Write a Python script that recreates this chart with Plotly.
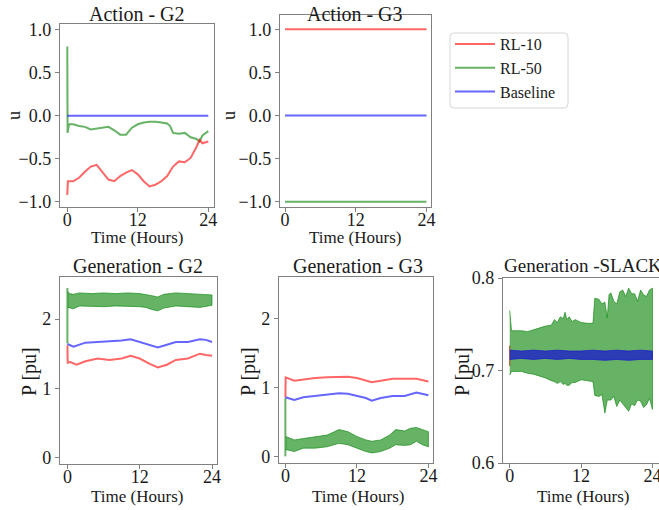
import plotly.graph_objects as go

W, H = 659, 510
FONT = "Liberation Serif"

# ---------------- data ----------------
series_names = ["RL-10", "RL-50", "Baseline"]

# Action - G2 (u)
a_g2_rl10_t = [0, 0.1, 1, 2, 3, 4, 5, 6, 7, 8, 9, 10, 11, 12, 13, 14, 15, 16, 17, 18, 19, 20, 21, 22, 22.5, 23, 24]
a_g2_rl10_u = [-0.92, -0.76, -0.76, -0.72, -0.65, -0.59, -0.57, -0.66, -0.74, -0.76, -0.70, -0.66, -0.63, -0.68,
               -0.76, -0.82, -0.80, -0.76, -0.70, -0.59, -0.53, -0.54, -0.49, -0.36, -0.28, -0.32, -0.30]
a_g2_rl50_t = [0, 0.05, 0.3, 1, 2, 3, 4, 5, 6, 7, 8, 9, 10, 11, 12, 13, 14, 15, 16, 17, 17.5, 18, 19, 20, 21, 22,
               22.5, 23, 24]
a_g2_rl50_u = [0.80, -0.20, -0.10, -0.10, -0.12, -0.13, -0.16, -0.15, -0.14, -0.13, -0.17, -0.22, -0.22, -0.14,
               -0.10, -0.08, -0.07, -0.07, -0.08, -0.09, -0.12, -0.20, -0.21, -0.20, -0.25, -0.27, -0.30, -0.23, -0.18]
a_g2_base_t = [0, 24]
a_g2_base_u = [0.0, 0.0]

# Action - G3 (u)
a_g3_t = [0, 24]
a_g3_rl10_u = [1.0, 1.0]
a_g3_rl50_u = [-1.0, -1.0]
a_g3_base_u = [0.0, 0.0]

# Generation - G2 (P pu)
g_g2_rl10_t = [0, 0.05, 0.5, 1.5, 3, 5, 7, 9, 10.5, 12, 13.5, 15, 16.5, 18, 20, 22, 23, 24]
g_g2_rl10_p = [1.62, 1.37, 1.38, 1.34, 1.39, 1.43, 1.41, 1.43, 1.47, 1.43, 1.36, 1.30, 1.34, 1.41, 1.43, 1.50,
               1.48, 1.47]
g_g2_base_t = [0, 1, 3, 5, 7, 9, 10.5, 12, 13.5, 15, 16.5, 18, 20, 22, 23, 24]
g_g2_base_p = [1.64, 1.60, 1.66, 1.67, 1.69, 1.69, 1.71, 1.67, 1.64, 1.59, 1.63, 1.67, 1.67, 1.71, 1.70, 1.67]
g_g2_rl50_spike_t = [0, 0]
g_g2_rl50_spike_p = [1.65, 2.45]
g_g2_rl50_t = [0.05, 0.3, 1, 2, 4, 6, 8, 10, 12, 13, 14, 15, 16, 18, 20, 22, 24]
g_g2_rl50_hi = [2.40, 2.37, 2.36, 2.38, 2.37, 2.38, 2.37, 2.38, 2.37, 2.36, 2.34, 2.32, 2.36, 2.38, 2.37, 2.37, 2.35]
g_g2_rl50_lo = [2.17, 2.17, 2.15, 2.19, 2.19, 2.18, 2.19, 2.19, 2.18, 2.17, 2.14, 2.12, 2.16, 2.19, 2.18, 2.17, 2.20]

# Generation - G3 (P pu)
g_g3_rl10_t = [0, 0.05, 1.5, 3, 5, 7, 9, 10.5, 12, 13.5, 14.5, 16, 18, 20, 22, 24]
g_g3_rl10_p = [0.86, 1.15, 1.10, 1.12, 1.14, 1.15, 1.16, 1.16, 1.14, 1.11, 1.08, 1.10, 1.13, 1.13, 1.13, 1.09]
g_g3_base_t = [0, 1.5, 3, 5, 7, 9, 10.5, 12, 13.5, 14.5, 16, 18, 20, 22, 23, 24]
g_g3_base_p = [0.86, 0.82, 0.86, 0.88, 0.89, 0.92, 0.91, 0.88, 0.85, 0.81, 0.85, 0.88, 0.88, 0.93, 0.91, 0.89]
g_g3_rl50_spike_t = [0, 0]
g_g3_rl50_spike_p = [0.85, 0.0]
g_g3_rl50_t = [0.05, 1.5, 3, 5, 7, 9, 10.5, 12, 13.5, 14.5, 16, 17.5, 18.5, 20, 21, 22, 23, 24]
g_g3_rl50_hi = [0.29, 0.24, 0.26, 0.29, 0.31, 0.39, 0.36, 0.29, 0.24, 0.22, 0.24, 0.31, 0.39, 0.37, 0.41, 0.42,
                0.39, 0.36]
g_g3_rl50_lo = [0.10, 0.07, 0.12, 0.12, 0.14, 0.19, 0.17, 0.12, 0.07, 0.05, 0.07, 0.12, 0.17, 0.16, 0.17, 0.22,
                0.17, 0.14]

# Generation - SLACK (P pu)
g_sl_rl50_t = [0, 0.3, 2, 3, 4, 5, 6, 7, 7.5, 8, 8.5, 9, 9.3, 9.6, 10, 10.5, 11, 12, 13, 14, 14.3, 15, 15.5, 16,
               16.4, 16.7, 17, 17.5, 18, 18.5, 19, 19.5, 20, 20.5, 21, 21.5, 22, 22.5, 23, 23.5, 24]
g_sl_rl50_hi = [0.765, 0.743, 0.743, 0.742, 0.744, 0.746, 0.748, 0.749, 0.755, 0.752, 0.758, 0.756, 0.763, 0.755,
                0.758, 0.753, 0.755, 0.752, 0.751, 0.751, 0.778, 0.777, 0.772, 0.774, 0.757, 0.782, 0.784, 0.775,
                0.772, 0.785, 0.787, 0.780, 0.789, 0.783, 0.783, 0.775, 0.787, 0.782, 0.780, 0.787, 0.789]
g_sl_rl50_lo = [0.695, 0.699, 0.699, 0.697, 0.696, 0.694, 0.692, 0.689, 0.688, 0.686, 0.688, 0.685, 0.686, 0.684,
                0.684, 0.687, 0.687, 0.690, 0.689, 0.688, 0.673, 0.672, 0.674, 0.654, 0.668, 0.668, 0.668, 0.672,
                0.661, 0.668, 0.664, 0.660, 0.656, 0.664, 0.662, 0.668, 0.667, 0.660, 0.663, 0.670, 0.658]
g_sl_base_t = [0, 2, 4, 6, 8, 10, 12, 14, 16, 18, 20, 22, 24]
g_sl_base_hi = [0.722, 0.721, 0.722, 0.721, 0.722, 0.721, 0.721, 0.722, 0.721, 0.722, 0.721, 0.722, 0.721]
g_sl_base_lo = [0.712, 0.713, 0.712, 0.713, 0.712, 0.713, 0.712, 0.712, 0.711, 0.712, 0.711, 0.712, 0.712]
g_sl_rl10_spike_t = [0, 0]
g_sl_rl10_spike_p = [0.705, 0.727]

hour_ticks = [0, 12, 24]
u_ticks = [-1.0, -0.5, 0.0, 0.5, 1.0]
u_ticktext = ["\u22121.0", "\u22120.5", "0.0", "0.5", "1.0"]
p_ticks = [0, 1, 2]
sl_ticks = [0.6, 0.7, 0.8]

# ---------------- style ----------------
RED = "rgba(255,0,0,0.6)"
GREEN = "rgba(0,128,0,0.6)"
BLUE = "rgba(0,0,255,0.6)"
DARKBLUE = "rgba(30,30,200,0.8)"
AXC = "#808080"
TXT = "#1a1a1a"

# axis boxes in pixels: (left, right, top, bottom), x range, y range
boxes = {
    "1": ((60, 214, 24, 207), (-1.24, 24.97), (-1.058, 1.061)),
    "2": ((280, 431, 15, 207), (-0.85, 24.76), (-1.061, 1.166)),
    "3": ((60, 217, 277, 464), (-1.23, 24.83), (-0.097, 2.61)),
    "4": ((279, 433, 277, 463), (-1.07, 24.77), (-0.096, 2.61)),
    "5": ((503, 659, 278, 463), (-1.13, 25.1), (0.6, 0.8)),
}

fig = go.Figure()


def ax_ids(k):
    return ("x" if k == "1" else "x" + k), ("y" if k == "1" else "y" + k)


def line(k, t, v, color, name=None, legend=False, rank=None, width=2):
    xa, ya = ax_ids(k)
    fig.add_trace(go.Scatter(x=t, y=v, mode="lines", xaxis=xa, yaxis=ya,
                             line=dict(color=color, width=width), name=name,
                             showlegend=legend, legendrank=rank if rank else 1000,
                             hoverinfo="skip"))


def band(k, t, hi, lo, color):
    xa, ya = ax_ids(k)
    fig.add_trace(go.Scatter(x=list(t) + list(t)[::-1], y=list(hi) + list(lo)[::-1],
                             mode="lines", fill="toself", fillcolor=color,
                             line=dict(color=color, width=1), xaxis=xa, yaxis=ya,
                             showlegend=False, hoverinfo="skip"))


# Action - G2
line("1", a_g2_rl50_t, a_g2_rl50_u, GREEN, series_names[1], True, 2)
line("1", a_g2_rl10_t, a_g2_rl10_u, RED, series_names[0], True, 1)
line("1", a_g2_base_t, a_g2_base_u, BLUE, series_names[2], True, 3)
# Action - G3
line("2", a_g3_t, a_g3_rl50_u, GREEN)
line("2", a_g3_t, a_g3_rl10_u, RED)
line("2", a_g3_t, a_g3_base_u, BLUE)
# Generation - G2
band("3", g_g2_rl50_t, g_g2_rl50_hi, g_g2_rl50_lo, GREEN)
line("3", g_g2_rl50_spike_t, g_g2_rl50_spike_p, GREEN)
line("3", g_g2_rl10_t, g_g2_rl10_p, RED)
line("3", g_g2_base_t, g_g2_base_p, BLUE)
# Generation - G3
band("4", g_g3_rl50_t, g_g3_rl50_hi, g_g3_rl50_lo, GREEN)
line("4", g_g3_rl50_spike_t, g_g3_rl50_spike_p, GREEN)
line("4", g_g3_rl10_t, g_g3_rl10_p, RED)
line("4", g_g3_base_t, g_g3_base_p, BLUE)
# Generation - SLACK
band("5", g_sl_rl50_t, g_sl_rl50_hi, g_sl_rl50_lo, GREEN)
line("5", g_sl_rl10_spike_t, g_sl_rl10_spike_p, "rgba(170,90,40,0.85)", width=1.5)
band("5", g_sl_base_t, g_sl_base_hi, g_sl_base_lo, DARKBLUE)

# legend frame (rounded, light grey) drawn as a shape
lx0, lx1, ly0, ly1, rr = 450 / W, 568 / W, 1 - 33 / H, 1 - 108 / H, 4
rx, ry = rr / W, rr / H
frame_path = (f"M{lx0 + rx},{ly0} L{lx1 - rx},{ly0} Q{lx1},{ly0} {lx1},{ly0 - ry} "
              f"L{lx1},{ly1 + ry} Q{lx1},{ly1} {lx1 - rx},{ly1} L{lx0 + rx},{ly1} "
              f"Q{lx0},{ly1} {lx0},{ly1 + ry} L{lx0},{ly0 - ry} Q{lx0},{ly0} {lx0 + rx},{ly0} Z")

layout = dict(width=W, height=H, margin=dict(l=0, r=0, t=0, b=0, pad=0, autoexpand=False),
              paper_bgcolor="white", plot_bgcolor="white",
              font=dict(family=FONT, color=TXT),
              shapes=[dict(type="path", path=frame_path, xref="paper", yref="paper",
                           line=dict(color="#d6d6d6", width=1), fillcolor="rgba(0,0,0,0)")],
              legend=dict(x=450 / W, y=1 - 27 / H, xanchor="left", yanchor="top",
                          borderwidth=0, bgcolor="rgba(0,0,0,0)", itemwidth=40,
                          font=dict(family=FONT, size=16, color=TXT)))

common = dict(showline=True, mirror=True, linecolor=AXC, linewidth=1.3, ticks="outside", ticklen=4,
              tickcolor=AXC, showgrid=False, zeroline=False, tickfont=dict(family=FONT, size=18, color=TXT),
              fixedrange=True, automargin=False, ticklabeloverflow="allow")

for k, ((l, r, t, b), xr, yr) in boxes.items():
    xa, ya = ax_ids(k)
    xkey = "xaxis" if k == "1" else "xaxis" + k
    ykey = "yaxis" if k == "1" else "yaxis" + k
    layout[xkey] = dict(common, domain=[l / W, r / W], range=list(xr), anchor=ya,
                        tickvals=hour_ticks, ticktext=[str(v) for v in hour_ticks],
                        ticklabelstandoff=-8)
    yd = dict(common, domain=[1 - b / H, 1 - t / H], range=list(yr), anchor=xa)
    if k in ("1", "2"):
        yd.update(tickvals=u_ticks, ticktext=u_ticktext)
    elif k in ("3", "4"):
        yd.update(tickvals=p_ticks, ticktext=[str(v) for v in p_ticks])
    else:
        yd.update(tickvals=sl_ticks, ticktext=["0.6", "0.7", "0.8"])
    layout[ykey] = yd

fig.update_layout(**layout)


def ann(text, x, y, size, angle=0, xanchor="center"):
    fig.add_annotation(text=text, x=x / W, y=1 - y / H, xref="paper", yref="paper",
                       showarrow=False, textangle=angle, xanchor=xanchor, yanchor="middle",
                       font=dict(family=FONT, size=size, color=TXT))


# titles
ann("Action - G2", 137, 14, 20)
ann("Action - G3", 355, 14, 20)
ann("Generation - G2", 138, 266, 20)
ann("Generation - G3", 358, 266, 20)
ann("Generation -SLACK", 502, 265, 19, xanchor="left")
# x labels
for cx, cy in [(137, 237), (355, 237), (137, 496), (358, 496), (583, 496)]:
    ann("Time (Hours)", cx, cy, 17)
# y labels
ann("u", 14, 116, 18, -90)
ann("u", 229, 116, 18, -90)
ann("P [pu]", 29, 372, 20, -90)
ann("P [pu]", 248, 372, 20, -90)
ann("P [pu]", 462, 372, 20, -90)

fig.write_html("out.html", config={"displayModeBar": False},
               post_script="document.body.style.margin='0';")
